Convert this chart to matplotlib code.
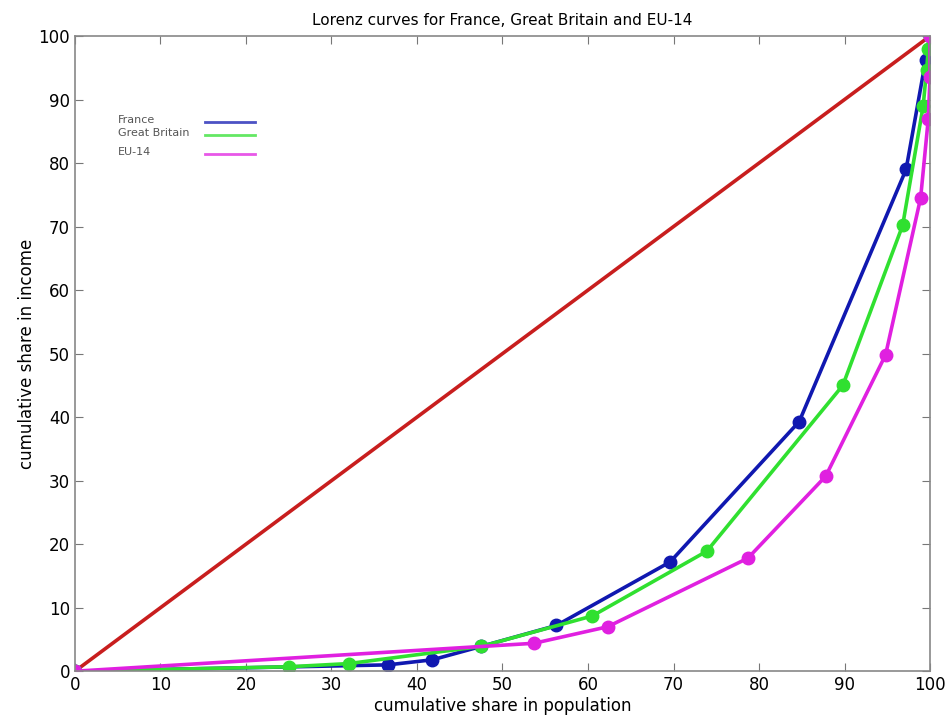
import numpy as np
import matplotlib
matplotlib.use("Agg")
import matplotlib.pyplot as plt

# cumulative share in population (x) / income (y)
france_x = [0, 36.6, 41.8, 47.5, 56.3, 69.6, 84.7, 97.2, 99.5, 100]
france_y = [0, 1.0, 1.8, 3.9, 7.2, 17.2, 39.3, 79.0, 96.3, 100]

gb_x = [0, 25.0, 32.0, 47.5, 60.5, 73.9, 89.8, 96.8, 99.2, 99.6, 99.8, 100]
gb_y = [0, 0.7, 1.2, 3.9, 8.7, 18.9, 45.0, 70.2, 89.0, 94.7, 98.0, 100]

eu_x = [0, 53.7, 62.3, 78.7, 87.8, 94.8, 98.9, 99.8, 100, 100]
eu_y = [0, 4.4, 7.0, 17.8, 30.7, 49.8, 74.5, 87.0, 93.5, 100]

equality = [0, 100]

labels = ["France", "Great Britain", "EU-14"]
colors = ["#1018b0", "#30e030", "#e020e0"]

fig = plt.figure(figsize=(9.49, 7.28), dpi=100)
ax = fig.add_axes([0.079, 0.078, 0.901, 0.8725])

ax.plot(equality, equality, color="#c81e1e", lw=2.6, zorder=1)
for xs, ys, c in zip([france_x, gb_x, eu_x], [france_y, gb_y, eu_y], colors):
    ax.plot(xs, ys, color=c, lw=2.6, marker="o", ms=9, zorder=2)

ax.set_xlim(0, 100)
ax.set_ylim(0, 100)
ax.set_xticks(np.arange(0, 101, 10))
ax.set_yticks(np.arange(0, 101, 10))
ax.tick_params(direction="in", top=True, right=True, length=6, labelsize=12,
               color="#777777")
for sp in ax.spines.values():
    sp.set_color("#888888")
    sp.set_linewidth(1.2)

ax.set_xlabel("cumulative share in population", fontsize=12, labelpad=2)
ax.set_ylabel("cumulative share in income", fontsize=12, labelpad=2)
ax.set_title("Lorenz curves for France, Great Britain and EU-14", fontsize=11, pad=8)

# hand-made legend: label on the left, line sample on the right
leg_y = [0.868, 0.847, 0.817]
for lab, c, yy in zip(labels, colors, leg_y):
    ax.text(0.05, yy, lab, transform=ax.transAxes, fontsize=8, color="#555555",
            va="center", ha="left")
    ax.plot([0.152, 0.21], [yy - 0.003, yy - 0.003], transform=ax.transAxes,
            color=c, lw=2, alpha=0.75, clip_on=False)

fig.savefig("out.png", dpi=100)
